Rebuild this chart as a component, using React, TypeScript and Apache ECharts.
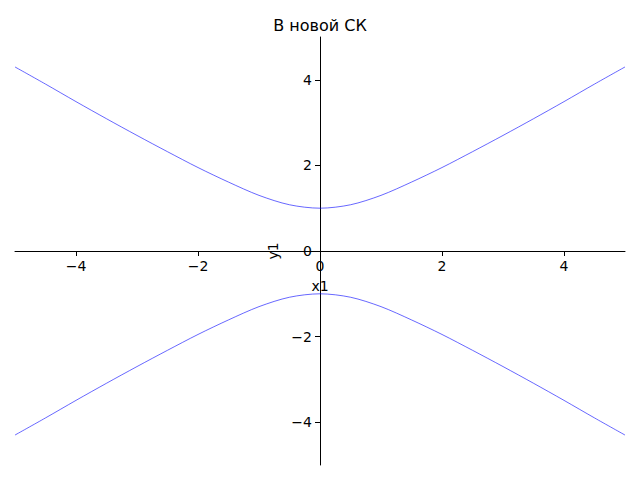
import React, { useEffect, useRef } from "react";
import * as echarts from "echarts";

const xValues = [-5, -4.5, -4, -3.5, -3, -2.5, -2, -1.5, -1, -0.5, 0, 0.5, 1, 1.5, 2, 2.5, 3, 3.5, 4, 4.5, 5];
const upperY = [4.30, 3.90, 3.49, 3.09, 2.70, 2.32, 1.95, 1.61, 1.30, 1.08, 1.0, 1.08, 1.30, 1.61, 1.95, 2.32, 2.70, 3.09, 3.49, 3.90, 4.30];
const lowerY = [-4.30, -3.90, -3.49, -3.09, -2.70, -2.32, -1.95, -1.61, -1.30, -1.08, -1.0, -1.08, -1.30, -1.61, -1.95, -2.32, -2.70, -3.09, -3.49, -3.90, -4.30];
const xTicks = [-4, -2, 0, 2, 4];
const yTicks = [-4, -2, 0, 2, 4];
const titleText = "В новой СК";
const xName = "x1";
const yName = "y1";

const fmt = (v: number) => String(v).replace("-", "\u2212");

export default function App() {
  const ref = useRef<HTMLDivElement>(null);
  useEffect(() => {
    if (!ref.current) return;
    const chart = echarts.init(ref.current, undefined, { renderer: "svg" });
    const font = "DejaVu Sans";
    const gridTop = 37, gridBottom = 15, gridLeft = 15, gridRight = 15;
    const plotH = 480 - gridTop - gridBottom;
    const plotW = 640 - gridLeft - gridRight;
    chart.setOption({
      animation: false,
      backgroundColor: "#ffffff",
      title: {
        text: titleText,
        left: "center",
        top: 12,
        textStyle: { fontFamily: font, fontSize: 16, fontWeight: "normal", color: "#000" },
      },
      grid: { left: gridLeft, right: gridRight, top: gridTop, bottom: gridBottom, containLabel: false, outerBoundsMode: "none" },
      xAxis: {
        type: "value",
        min: -5,
        max: 5,
        position: "bottom",
        offset: -plotH / 2,
        name: xName,
        nameLocation: "middle",
        nameGap: 35,
        nameTextStyle: { fontFamily: font, fontSize: 14, color: "#000", verticalAlign: "middle" },
        axisLine: { onZero: false, lineStyle: { color: "#000", width: 1 } },
        axisTick: { show: true, customValues: xTicks, length: 5, lineStyle: { color: "#000" } },
        axisLabel: { customValues: xTicks, formatter: fmt, fontFamily: font, fontSize: 14, color: "#000", margin: 8 },
        splitLine: { show: false },
      },
      yAxis: {
        type: "value",
        min: -5,
        max: 5,
        position: "left",
        offset: -plotW / 2,
        name: yName,
        nameLocation: "middle",
        nameGap: 42,
        nameTextStyle: { fontFamily: font, fontSize: 14, color: "#000", verticalAlign: "middle" },
        axisLine: { onZero: false, lineStyle: { color: "#000", width: 1 } },
        axisTick: { show: true, customValues: yTicks, length: 5, lineStyle: { color: "#000" } },
        axisLabel: { customValues: yTicks, formatter: fmt, fontFamily: font, fontSize: 14, color: "#000", margin: 8 },
        splitLine: { show: false },
      },
      series: [
        {
          type: "line",
          data: xValues.map((x, i) => [x, upperY[i]]),
          smooth: 0.3,
          showSymbol: false,
          lineStyle: { color: "rgba(0,0,255,0.75)", width: 0.8 },
        },
        {
          type: "line",
          data: xValues.map((x, i) => [x, lowerY[i]]),
          smooth: 0.3,
          showSymbol: false,
          lineStyle: { color: "rgba(0,0,255,0.75)", width: 0.8 },
        },
      ],
    });
    return () => chart.dispose();
  }, []);
  return <div ref={ref} style={{ width: 640, height: 480, margin: -8 }} />;
}
